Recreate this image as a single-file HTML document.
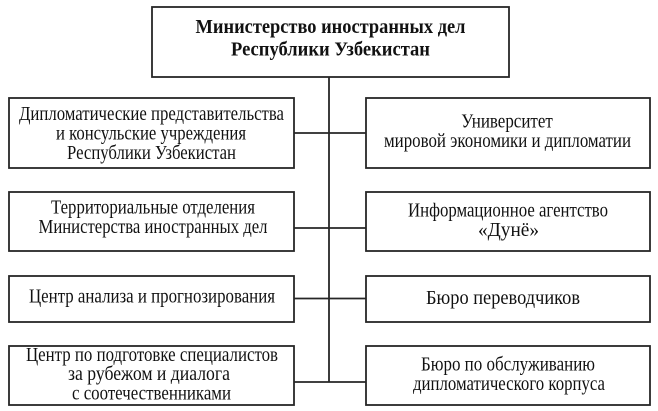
<!DOCTYPE html>
<html>
<head>
<meta charset="utf-8">
<style>
html,body{margin:0;padding:0;background:#fff;}
svg{display:block;}
text{font-family:"Liberation Serif","Noto Serif CJK SC",serif;fill:#111;}
.b{font-size:20px;}
.t{font-size:20px;font-weight:bold;}
</style>
</head>
<body>
<svg width="658" height="411" viewBox="0 0 658 411" xmlns="http://www.w3.org/2000/svg">
<g fill="none" stroke="#262626" stroke-width="1.8">
  <rect x="152" y="7" width="357" height="70"/>
  <rect x="9" y="98" width="285" height="70"/>
  <rect x="366" y="98" width="284" height="70"/>
  <rect x="9" y="192" width="285" height="59"/>
  <rect x="366" y="192" width="284" height="59"/>
  <rect x="9" y="276" width="285" height="46"/>
  <rect x="366" y="276" width="284" height="46"/>
  <rect x="9" y="346" width="285" height="59"/>
  <rect x="366" y="346" width="284" height="59"/>
  <line x1="329" y1="77" x2="329" y2="382"/>
  <line x1="294" y1="133" x2="366" y2="133"/>
  <line x1="294" y1="228" x2="366" y2="228"/>
  <line x1="294" y1="298.5" x2="366" y2="298.5"/>
  <line x1="294" y1="382" x2="366" y2="382"/>
</g>
<g text-anchor="middle">
  <text class="t" x="330.5" y="33" textLength="270" lengthAdjust="spacingAndGlyphs">Министерство иностранных дел</text>
  <text class="t" x="330.5" y="55.5" textLength="199" lengthAdjust="spacingAndGlyphs">Республики Узбекистан</text>

  <text class="b" x="151.5" y="120" textLength="265" lengthAdjust="spacingAndGlyphs">Дипломатические представительства</text>
  <text class="b" x="151" y="139.5" textLength="190" lengthAdjust="spacingAndGlyphs">и консульские учреждения</text>
  <text class="b" x="151.5" y="159" textLength="169" lengthAdjust="spacingAndGlyphs">Республики Узбекистан</text>

  <text class="b" x="507" y="127.5" textLength="91.5" lengthAdjust="spacingAndGlyphs">Университет</text>
  <text class="b" x="507.5" y="147" textLength="247" lengthAdjust="spacingAndGlyphs">мировой экономики и дипломатии</text>

  <text class="b" x="153" y="213.5" textLength="204" lengthAdjust="spacingAndGlyphs">Территориальные отделения</text>
  <text class="b" x="153" y="233" textLength="229" lengthAdjust="spacingAndGlyphs">Министерства иностранных дел</text>

  <text class="b" x="508" y="216.5" textLength="200" lengthAdjust="spacingAndGlyphs">Информационное агентство</text>
  <text class="b" x="508.5" y="236" textLength="61" lengthAdjust="spacingAndGlyphs">«Дунё»</text>

  <text class="b" x="152" y="302.5" textLength="246" lengthAdjust="spacingAndGlyphs">Центр анализа и прогнозирования</text>
  <text class="b" x="503" y="304" textLength="154" lengthAdjust="spacingAndGlyphs">Бюро переводчиков</text>

  <text class="b" x="152" y="361" textLength="252" lengthAdjust="spacingAndGlyphs">Центр по подготовке специалистов</text>
  <text class="b" x="149" y="380" textLength="162" lengthAdjust="spacingAndGlyphs">за рубежом и диалога</text>
  <text class="b" x="151.5" y="399.5" textLength="159" lengthAdjust="spacingAndGlyphs">с соотечественниками</text>

  <text class="b" x="508" y="370.5" textLength="174" lengthAdjust="spacingAndGlyphs">Бюро по обслуживанию</text>
  <text class="b" x="509" y="390" textLength="192" lengthAdjust="spacingAndGlyphs">дипломатического корпуса</text>
</g>
</svg>
</body>
</html>
